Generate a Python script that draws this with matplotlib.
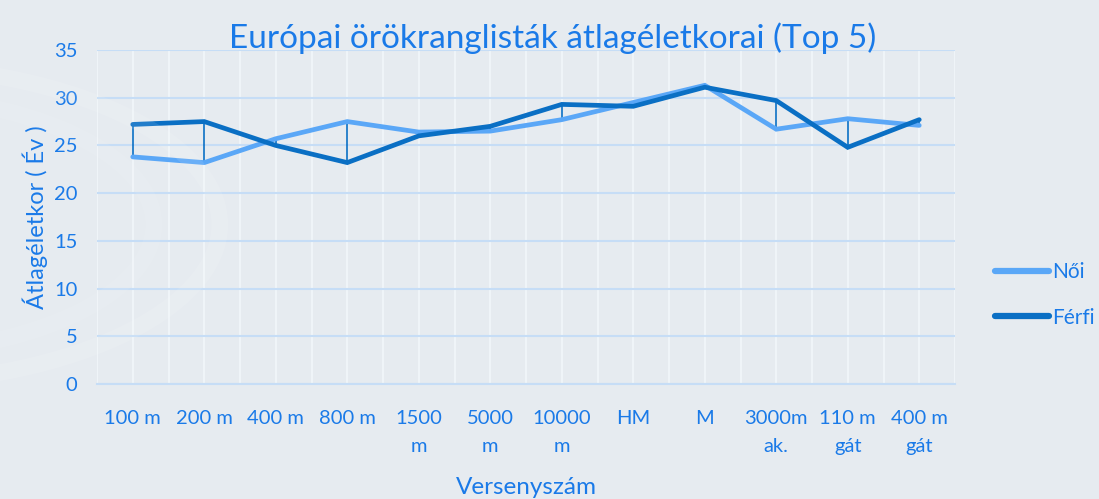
import matplotlib
matplotlib.use('Agg')
import matplotlib.pyplot as plt
from matplotlib.patches import Circle
import numpy as np

# Data ------------------------------------------------------------------------
events = ['100 m', '200 m', '400 m', '800 m', '1500\nm', '5000\nm',
          '10000\nm', 'HM', 'M', '3000m\nak.', '110 m\ngát', '400 m\ngát']
noi = [23.8, 23.2, 25.7, 27.5, 26.4, 26.5, 27.7, 29.5, 31.3, 26.7, 27.8, 27.1]
ferfi = [27.2, 27.5, 25.0, 23.2, 26.0, 27.0, 29.3, 29.1, 31.1, 29.7, 24.8, 27.7]

# Styles ----------------------------------------------------------------------
bg = '#e6ebf0'
txt = '#1a7ae8'
c_noi = '#5aa7f7'
c_ferfi = '#0a6fc4'

plt.rcParams['font.family'] = ['Lato', 'DejaVu Sans']

fig = plt.figure(figsize=(10.99, 4.99), dpi=100, facecolor=bg)
ax = fig.add_axes([97 / 1099, 1 - 384 / 499, (955 - 97) / 1099, (384 - 50) / 499])
ax.set_facecolor(bg)

# faint watermark arcs on the left
for r, a in [(0.32, 0.10), (0.26, 0.07)]:
    fig.patches.append(Circle((-0.12, 0.55), r, transform=fig.transFigure,
                              fill=False, ec='white', lw=12, alpha=a,
                              zorder=0))

x = np.arange(len(events))

# drop lines between the two series
ax.vlines(x, np.minimum(noi, ferfi), np.maximum(noi, ferfi),
          color=c_ferfi, lw=1.2, zorder=3)

ax.plot(x, noi, color=c_noi, lw=3.4, label='Női', zorder=4,
        solid_capstyle='round', solid_joinstyle='miter')
ax.plot(x, ferfi, color=c_ferfi, lw=3.4, label='Férfi', zorder=5,
        solid_capstyle='round', solid_joinstyle='miter')

ax.set_xlim(-0.5, len(events) - 0.5)
ax.set_ylim(0, 35)
ax.set_yticks(np.arange(0, 36, 5))
ax.set_xticks(x)
ax.set_xticklabels(events, va='top', linespacing=1.75)
ax.set_xticks(np.arange(-0.5, len(events), 1.0), minor=True)

# grid
ax.grid(True, axis='y', color='#c6ddf6', lw=1.5)
ax.grid(True, axis='x', which='both', color='#f2f6fa', lw=1.2)
ax.set_axisbelow(True)

for s in ['top', 'right', 'left']:
    ax.spines[s].set_visible(False)
ax.spines['bottom'].set_color('#c6ddf6')
ax.spines['bottom'].set_linewidth(1.5)

ax.tick_params(axis='both', which='both', length=0, colors=txt,
               labelsize=14.5)
ax.tick_params(axis='x', pad=19)
ax.tick_params(axis='y', pad=14)

ax.set_xlabel('Versenyszám', color=txt, fontsize=17.5, labelpad=16)
ax.set_ylabel('Átlagéletkor ( Év )', color=txt, fontsize=17, labelpad=4)
fig.text(553 / 1099, 1 - 38 / 499,
         'Európai örökranglisták átlagéletkorai (Top 5)',
         color=txt, fontsize=24, ha='center', va='center')

leg = ax.legend(loc='center left', bbox_to_anchor=(995 / 1099, 1 - 295 / 499),
                bbox_transform=fig.transFigure, frameon=False,
                fontsize=15, handlelength=2.6, handletextpad=0.15,
                labelspacing=1.2, borderaxespad=0, borderpad=0)
for t in leg.get_texts():
    t.set_color(txt)
for h in leg.get_lines():
    h.set_linewidth(4.5)

if __name__ == '__main__':
    plt.savefig('out.png', dpi=100, facecolor=bg)
